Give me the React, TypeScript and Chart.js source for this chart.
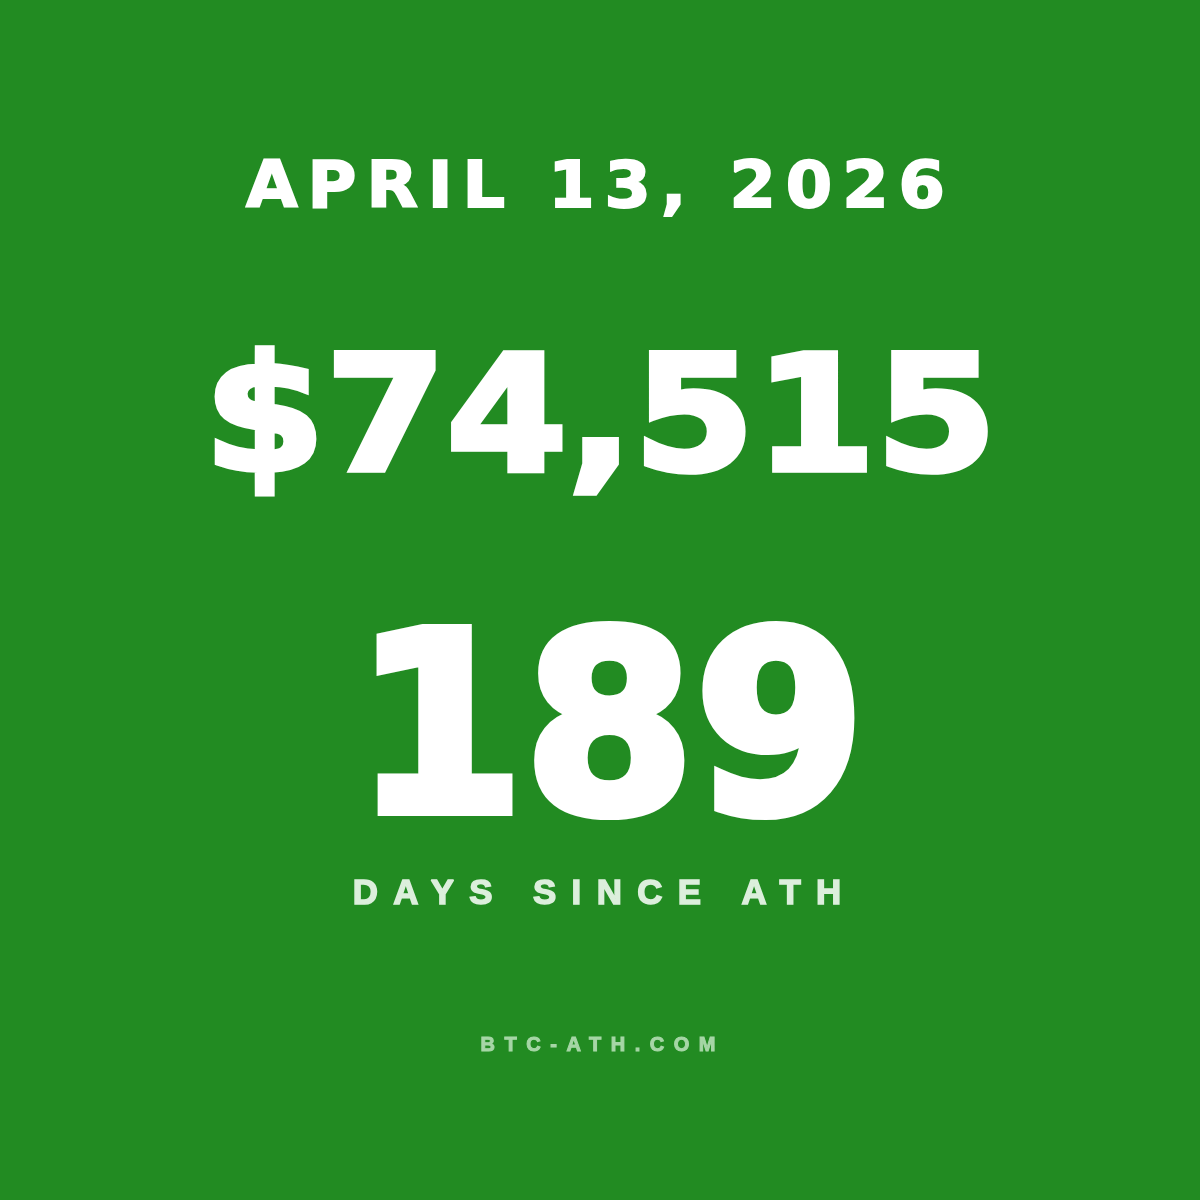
import { useEffect, useRef } from "react";
import { Chart, registerables, Plugin } from "chart.js";

Chart.register(...registerables);

// values shown on the card
const dateLabels = ["APRIL 13, 2026"];
const priceValues = [74515];
const daysSinceAth = [189];
const captions = ["DAYS SINCE ATH", "BTC-ATH.COM"];

const BG = "#228B22";

interface TextLine {
  text: string;
  font: string;
  spacing: number;
  weight: number; // extra stroke to fatten the glyphs
  color: string;
  left: number;
  right: number;
  top: number; // cap top
  baseline: number;
}

function drawFitted(ctx: CanvasRenderingContext2D, line: TextLine) {
  ctx.save();
  ctx.font = line.font;
  (ctx as any).letterSpacing = `${line.spacing}px`;
  ctx.textAlign = "left";
  ctx.textBaseline = "alphabetic";
  const w = ctx.measureText(line.text).width - line.spacing;
  const capH = ctx.measureText("H").actualBoundingBoxAscent;
  const half = line.weight / 2;
  const sx = (line.right - line.left - line.weight) / w;
  const sy = (line.baseline - line.top - line.weight) / capH;
  ctx.translate(line.left + half, line.baseline - half);
  ctx.scale(sx, sy);
  ctx.fillStyle = line.color;
  ctx.fillText(line.text, 0, 0);
  if (line.weight > 0) {
    ctx.strokeStyle = line.color;
    ctx.lineJoin = "miter";
    ctx.miterLimit = 2;
    ctx.lineWidth = line.weight / sx;
    ctx.strokeText(line.text, 0, 0);
  }
  ctx.restore();
}

const cardText: Plugin<"bar"> = {
  id: "cardText",
  beforeDraw(chart) {
    const { ctx, width, height } = chart;
    ctx.save();
    ctx.fillStyle = BG;
    ctx.fillRect(0, 0, width, height);
    ctx.restore();

    const lines: TextLine[] = [
      {
        text: dateLabels[0],
        font: "bold 60px 'DejaVu Sans'",
        spacing: 9,
        weight: 2,
        color: "#ffffff",
        left: 245,
        right: 946,
        top: 158,
        baseline: 208,
      },
      {
        text: "$" + priceValues[0].toLocaleString("en-US"),
        font: "bold 150px 'DejaVu Sans'",
        spacing: 0,
        weight: 6,
        color: "#ffffff",
        left: 201,
        right: 1000,
        top: 349,
        baseline: 473,
      },
      {
        text: String(daysSinceAth[0]),
        font: "bold 240px 'DejaVu Sans'",
        spacing: 0,
        weight: 10,
        color: "#ffffff",
        left: 349,
        right: 870,
        top: 623,
        baseline: 816,
      },
      {
        text: captions[0],
        font: "bold 34px 'Liberation Sans'",
        spacing: 15,
        weight: 1.5,
        color: "#dcefdc",
        left: 352,
        right: 842,
        top: 880,
        baseline: 905,
      },
      {
        text: captions[1],
        font: "bold 21px 'Liberation Sans'",
        spacing: 10,
        weight: 1,
        color: "#a6d6a6",
        left: 480,
        right: 716,
        top: 1036,
        baseline: 1051,
      },
    ];
    lines.forEach((l) => drawFitted(ctx, l));
  },
};

export default function App() {
  const canvasRef = useRef<HTMLCanvasElement>(null);

  useEffect(() => {
    document.body.style.margin = "0";
    if (!canvasRef.current) return;
    const chart = new Chart(canvasRef.current, {
      type: "bar",
      data: { labels: [], datasets: [] },
      options: {
        animation: false,
        responsive: false,
        devicePixelRatio: 1,
        events: [],
        scales: { x: { display: false }, y: { display: false } },
        plugins: {
          legend: { display: false },
          tooltip: { enabled: false },
        },
      },
      plugins: [cardText],
    });
    return () => chart.destroy();
  }, []);

  return (
    <div style={{ position: "absolute", left: 0, top: 0, width: 1200, height: 1200, background: BG }}>
      <canvas ref={canvasRef} width={1200} height={1200} />
    </div>
  );
}
